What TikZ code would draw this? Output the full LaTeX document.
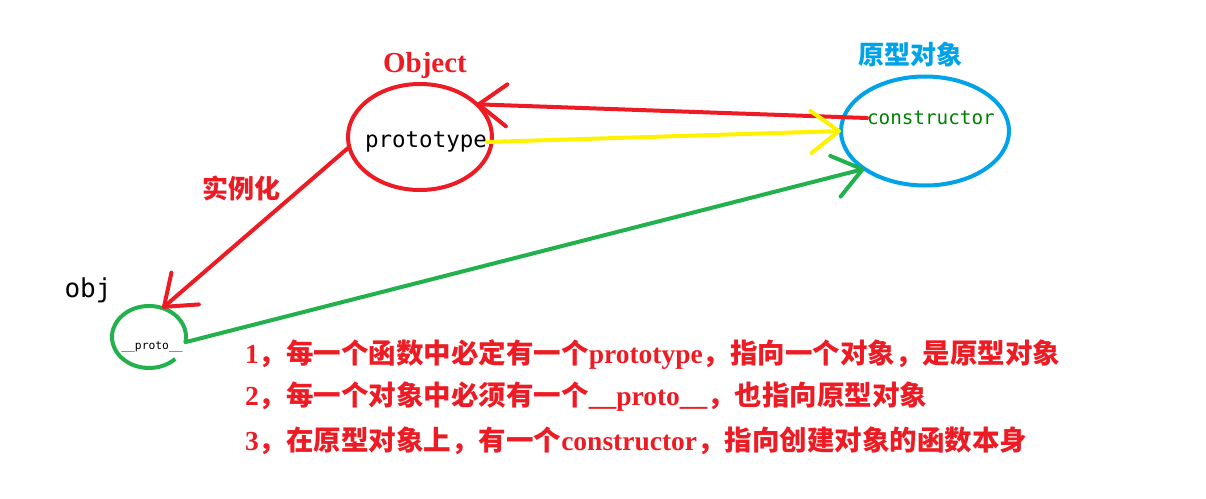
\documentclass[tikz,border=0pt]{standalone}
\usepackage{fontspec}
\setmainfont{Liberation Serif}
\newfontfamily\cjk{Noto Sans CJK SC}
\newfontfamily\codefont{DejaVu Sans Mono}
\usetikzlibrary{shapes.geometric,arrows.meta,calc}
\definecolor{paintred}{RGB}{237,28,36}
\definecolor{paintyellow}{RGB}{255,242,0}
\definecolor{paintgreen}{RGB}{34,177,76}
\definecolor{paintblue}{RGB}{0,162,232}
\definecolor{ctorgreen}{RGB}{0,128,0}
\newcommand{\en}[1]{{\rmfamily #1}}
\tikzstyle{link} = [line width=4pt,line cap=round,-{Straight Barb[length=28pt,width=42pt,round]}]

\begin{document}
\begin{tikzpicture}[
        x=1pt, y=-1pt,
        every node/.style={inner sep=0pt, outer sep=0pt},
        ring/.style={ellipse, line width=4pt},
        note/.style={anchor=west, text=paintred, font=\cjk\bfseries\fontsize{27.5}{30}\selectfont}
        ]
    \useasboundingbox (0,0) rectangle (1206,498);
    % Object
    \node[ring, draw=paintred, minimum width=144pt, minimum height=106pt] (objectE) at (420,137) {};
    \node[font=\codefont\fontsize{22.5}{24}\selectfont] (proto) at (426,142) {prototype};
    \node[font=\bfseries\fontsize{29}{32}\selectfont, text=paintred] (objectLbl) at (425,66) {Object};
    % prototype object
    \node[ring, draw=paintblue, minimum width=168pt, minimum height=109pt] (protoE) at (925,131) {};
    \node[anchor=west, font=\codefont\fontsize{19.3}{21}\selectfont, text=ctorgreen] (ctor) at (867,118) {constructor};
    \node[font=\cjk\bfseries\fontsize{26}{28}\selectfont, text=paintblue] (protoLbl) at (910,55) {原型对象};
    % obj
    \node[ring, minimum width=74pt, minimum height=62pt] (objC) at (149,337) {};
    \draw[paintgreen, line width=4pt] ($(objC.center)+(26.2,21.9)$) arc[start angle=45, end angle=370, x radius=37, y radius=31];
    \node[font=\codefont\fontsize{11.3}{12}\selectfont] (protoTxt) at (152,347) {\_\_proto\_\_};
    \node[font=\codefont\fontsize{26}{28}\selectfont] (objLbl) at (88,290) {obj};
    \node[font=\cjk\bfseries\fontsize{26}{28}\selectfont, text=paintred] (newLbl) at (241,188) {实例化};
    % links
    \draw[link, paintred] (ctor.west) -- (objectE.30);
    \draw[link, paintyellow] (proto.east) -- (protoE.west);
    \draw[link, paintred] (objectE.188) -- (objC.65);
    \draw[link, paintgreen] (objC.-8) -- (protoE.212);
    % notes
    \node[note] (line1) at (245,355) {\en{1}，每一个函数中必定有一个\en{prototype}，指向一个对象，是原型对象};
    \node[note] (line2) at (245,397) {\en{2}，每一个对象中必须有一个\en{\_\_proto\_\_}，也指向原型对象};
    \node[note] (line3) at (245,441) {\en{3}，在原型对象上，有一个\en{constructor}，指向创建对象的函数本身};
\end{tikzpicture}
\end{document}
